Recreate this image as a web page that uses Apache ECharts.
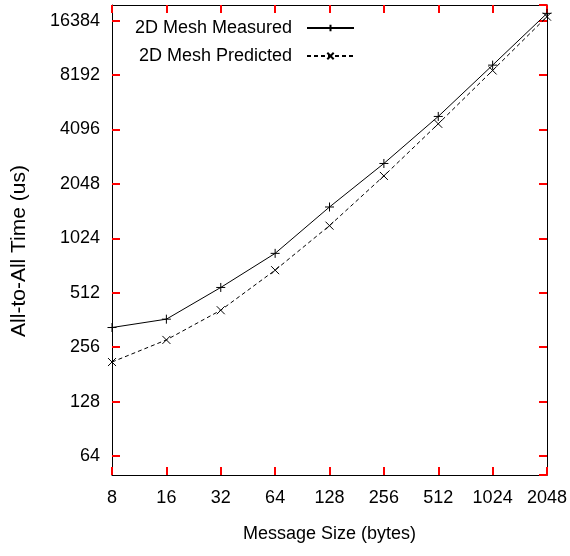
<!DOCTYPE html>
<html>
<head>
<meta charset="utf-8">
<script src="https://cdn.jsdelivr.net/npm/echarts@6/dist/echarts.min.js"></script>
<style>
html, body { margin: 0; padding: 0; background: #fff; }
#chart { width: 570px; height: 556px; }
</style>
</head>
<body>
<div id="chart"></div>
<script>
var sizes = [8, 16, 32, 64, 128, 256, 512, 1024, 2048];
var measured = [329, 366, 548, 846, 1527, 2658, 4838, 9300, 17980];
var predicted = [212, 281, 410, 683, 1204, 2268, 4404, 8690, 17240];
var seriesNames = ['2D Mesh Measured', '2D Mesh Predicted'];

var font = "'Liberation Sans', Arial, sans-serif";
var plusIcon = 'path://M0,5L10,5M5,0L5,10';
var crossIcon = 'path://M0,0L10,10M0,10L10,0';

function pairs(ys) {
	var out = [];
	for (var i = 0; i < sizes.length; i++) {
		out.push([sizes[i], ys[i]]);
	}
	return out;
}

function plainNumber(v) {
	return String(Math.round(v));
}

function frameTick() {
	return { show: true, inside: true, length: 8, lineStyle: { color: 'red', width: 2 } };
}
function frameLine() {
	return { show: true, lineStyle: { color: '#000' } };
}

var myChart = echarts.init(document.getElementById('chart'));

option = {
	animation: false,
	grid: { left: 112, right: 23, top: 5, bottom: 81, outerBoundsMode: 'none' },
	legend: {
		orient: 'vertical',
		right: 210,
		top: 14,
		align: 'right',
		itemWidth: 47,
		itemHeight: 8,
		itemGap: 10,
		textStyle: { fontFamily: font, fontSize: 18, color: '#000', padding: [0, 10, 0, 0] },
		data: seriesNames
	},
	xAxis: [
		{
			type: 'log',
			logBase: 2,
			min: 8,
			max: 2048,
			name: 'Message Size (bytes)',
			nameLocation: 'middle',
			nameGap: 50,
			nameTextStyle: { fontFamily: font, fontSize: 18, color: '#000' },
			axisLine: frameLine(),
			axisTick: frameTick(),
			axisLabel: { fontFamily: font, fontSize: 18, color: '#000', margin: 14, showMinLabel: true, showMaxLabel: true, hideOverlap: false, formatter: plainNumber },
			splitLine: { show: false }
		},
		{
			type: 'log',
			logBase: 2,
			position: 'top',
			min: 8,
			max: 2048,
			axisLine: frameLine(),
			axisTick: frameTick(),
			axisLabel: { show: false },
			splitLine: { show: false }
		}
	],
	yAxis: [
		{
			type: 'log',
			logBase: 2,
			min: 50.3,
			max: 20000,
			name: 'All-to-All Time (us)',
			nameLocation: 'middle',
			nameGap: 82,
			nameTextStyle: { fontFamily: font, fontSize: 21, color: '#000', padding: [0, 22, 0, 0] },
			axisLine: frameLine(),
			axisTick: frameTick(),
			axisLabel: { fontFamily: font, fontSize: 18, color: '#000', margin: 12, showMinLabel: false, showMaxLabel: false, formatter: plainNumber },
			splitLine: { show: false }
		},
		{
			type: 'log',
			logBase: 2,
			position: 'right',
			min: 50.3,
			max: 20000,
			axisLine: frameLine(),
			axisTick: frameTick(),
			axisLabel: { show: false },
			splitLine: { show: false }
		}
	],
	series: [
		{
			name: seriesNames[0],
			type: 'line',
			data: pairs(measured),
			symbol: plusIcon,
			symbolSize: 9,
			lineStyle: { color: '#000', width: 1, type: 'solid' },
			itemStyle: { color: '#000', borderColor: '#000', borderWidth: 1 }
		},
		{
			name: seriesNames[1],
			type: 'line',
			data: pairs(predicted),
			symbol: crossIcon,
			symbolSize: 8,
			lineStyle: { color: '#000', width: 1, type: [4, 3] },
			itemStyle: { color: '#000', borderColor: '#000', borderWidth: 1 }
		}
	]
};
myChart.setOption(option);
</script>
</body>
</html>
